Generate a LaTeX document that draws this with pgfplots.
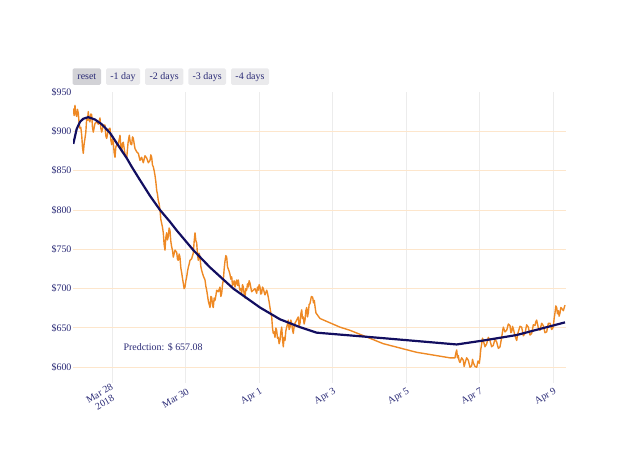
\documentclass[border=0pt]{standalone}
\usepackage{pgfplots}
\pgfplotsset{compat=1.18}
\usepackage{fontspec}
\setmainfont{Liberation Serif}
\definecolor{navyline}{RGB}{18,14,96}
\definecolor{txt}{RGB}{42,42,118}
\definecolor{orangeline}{RGB}{238,137,36}
\definecolor{hgrid}{RGB}{253,230,204}
\definecolor{vgrid}{RGB}{236,236,236}
\definecolor{btn}{RGB}{234,234,236}
\definecolor{btnact}{RGB}{210,210,214}
\pgfplotstableread{
x y
-1.053 929
-1.030 920
-1.007 933
-0.984 922
-0.961 919
-0.939 928
-0.917 923
-0.894 910
-0.871 904
-0.848 905
-0.824 895
-0.803 880
-0.781 872
-0.758 884
-0.735 891
-0.712 899
-0.688 917
-0.667 914
-0.645 925
-0.622 914
-0.599 912
-0.576 922
-0.552 921
-0.531 905
-0.509 899
-0.463 910
-0.416 912
-0.372 909
-0.327 917
-0.304 904
-0.280 899
-0.235 908
-0.190 908
-0.167 894
-0.144 891
-0.099 902
-0.054 904
-0.031 889
-0.008 883
0.014 890
0.035 886
0.059 873
0.082 867
0.105 880
0.128 883
0.173 884
0.218 895
0.241 880
0.264 874
0.286 885
0.307 886
0.354 871
0.400 866
0.436 885
0.471 895
0.504 884
0.536 883
0.558 893
0.580 891
0.626 878
0.672 874
0.717 872
0.762 863
0.807 867
0.852 860
0.898 869
0.944 866
0.989 860
1.034 863
1.057 870
1.080 867
1.102 857
1.124 855
1.147 850
1.170 844
1.193 836
1.216 825
1.238 820
1.260 812
1.283 808
1.306 800
1.329 788
1.352 783
1.374 778
1.396 771
1.419 756
1.442 749
1.465 765
1.488 771
1.510 762
1.532 766
1.555 777
1.578 774
1.601 760
1.624 753
1.646 749
1.668 740
1.715 749
1.761 746
1.783 737
1.804 736
1.827 744
1.850 740
1.874 726
1.897 720
1.919 713
1.940 707
1.963 700
1.986 702
2.010 710
2.033 715
2.055 722
2.076 727
2.099 731
2.122 736
2.167 738
2.212 745
2.236 760
2.259 771
2.282 761
2.305 758
2.327 743
2.348 736
2.372 745
2.395 740
2.418 728
2.441 723
2.486 716
2.531 711
2.554 703
2.577 698
2.622 684
2.667 676
2.690 690
2.713 689
2.735 679
2.756 676
2.780 688
2.803 685
2.826 691
2.849 698
2.894 696
2.939 702
2.962 690
2.985 694
3.007 705
3.029 711
3.052 725
3.075 735
3.098 742
3.121 740
3.143 728
3.164 725
3.188 722
3.211 718
3.234 712
3.257 715
3.280 704
3.302 707
3.325 710
3.347 702
3.370 708
3.393 711
3.416 704
3.438 711
3.461 703
3.483 698
3.506 700
3.529 694
3.551 705
3.573 702
3.596 693
3.619 688
3.642 700
3.665 698
3.687 706
3.709 702
3.732 710
3.755 707
3.800 696
3.845 698
3.891 700
3.937 694
3.959 702
3.981 698
4.004 705
4.027 702
4.050 693
4.073 694
4.095 702
4.117 700
4.163 692
4.210 698
4.232 694
4.253 689
4.276 683
4.299 676
4.322 669
4.346 664
4.367 650
4.389 643
4.412 645
4.435 638
4.458 650
4.481 647
4.503 637
4.525 638
4.548 630
4.571 634
4.595 645
4.618 651
4.640 636
4.661 626
4.684 638
4.707 634
4.730 646
4.754 651
4.775 655
4.797 660
4.820 648
4.844 651
4.867 660
4.890 656
4.911 648
4.933 643
4.956 652
4.980 656
5.025 660
5.069 664
5.092 652
5.116 656
5.139 668
5.162 673
5.183 662
5.205 664
5.228 655
5.252 660
5.275 672
5.298 676
5.320 664
5.341 669
5.365 680
5.388 681
5.425 690
5.461 689
5.483 682
5.505 685
5.528 676
5.551 669
5.660 662
6.204 651
6.476 647
7.382 630
8.291 619
9.197 612
9.333 612
9.356 618
9.380 622
9.401 612
9.423 615
9.446 608
9.469 606
9.514 612
9.559 609
9.582 601
9.605 605
9.650 612
9.695 609
9.741 600
9.788 602
9.810 610
9.831 606
9.878 601
9.924 600
9.960 608
9.995 605
10.014 612
10.033 622
10.047 626
10.060 630
10.082 637
10.103 634
10.150 626
10.196 630
10.241 638
10.286 634
10.331 626
10.376 628
10.422 636
10.468 632
10.513 624
10.558 626
10.581 632
10.604 638
10.626 645
10.648 651
10.694 645
10.740 647
10.785 655
10.830 653
10.853 644
10.876 645
10.898 652
10.920 649
10.966 640
11.012 634
11.034 641
11.056 645
11.102 652
11.148 651
11.193 640
11.238 643
11.283 654
11.328 651
11.374 641
11.420 643
11.465 654
11.510 653
11.533 658
11.556 660
11.601 650
11.646 647
11.691 656
11.736 653
11.782 644
11.829 645
11.873 656
11.918 656
11.963 648
12.008 651
12.031 662
12.054 669
12.077 678
12.100 676
12.122 668
12.144 672
12.167 665
12.190 669
12.213 676
12.236 675
12.281 672
12.327 679
}\price
\pgfplotstableread{
x y
-1.053 884
-0.961 903
-0.871 912
-0.781 916
-0.645 918
-0.463 915
-0.280 909
-0.054 898
0.128 885
0.400 866
0.536 855
0.762 838
1.034 818
1.306 800
1.578 785
1.761 774
2.212 749
2.667 727
3.302 700
3.483 694
4.027 676
4.571 661
5.116 651
5.570 644
7.382 637
9.380 629
10.103 634
11.012 641
12.327 657.08
}\pred
\begin{document}
\begin{tikzpicture}
\path[use as bounding box] (0,0) rectangle (640bp,457bp);
\begin{axis}[
  at={(73bp,74bp)}, anchor=south west,
  width=493bp, height=291bp, scale only axis,
  xmin=-1.061, xmax=12.354, ymin=580, ymax=950,
  axis line style={draw=none},
  major tick length=0pt,
  xtick={0,2,4,6,8,10,12},
  xticklabels={{Mar 28\\2018},Mar 30,Apr 1,Apr 3,Apr 5,Apr 7,Apr 9},
  xticklabel style={rotate=30, anchor=east, align=center, font=\fontsize{10}{10.5}\selectfont, text=txt, xshift=2bp, yshift=-8bp},
  ytick={600,650,...,900},
  yticklabels={\$600,\$650,\$700,\$750,\$800,\$850,\$900},
  extra y ticks={950}, extra y tick labels={\$950},
  extra y tick style={grid=none},
  yticklabel style={font=\fontsize{10}{12}\selectfont, text=txt, xshift=2bp},
  ymajorgrids, xmajorgrids,
  y grid style={hgrid, line width=0.9pt},
  x grid style={vgrid, line width=0.9pt},
  clip=true,
]
\addplot[orangeline, line width=1.4pt, line join=round] table[x=x,y=y] {\price};
\addplot[navyline, line width=2.2pt, line join=round] table[x=x,y=y] {\pred};
\node[text=txt, font=\fontsize{10}{12}\selectfont] at (axis cs:1.39,625.5) {Predction: \$ 657.08};
\end{axis}
\begin{scope}[font=\fontsize{10}{12}\selectfont, text=txt]
\fill[btnact, rounded corners=1.5bp] (72.7bp,372bp) rectangle (101bp,388.7bp);
\node at (86.85bp,380.3bp) {reset};
\fill[btn, rounded corners=1.5bp] (106bp,372bp) rectangle (140bp,388.7bp);
\node at (123bp,380.3bp) {-1 day};
\fill[btn, rounded corners=1.5bp] (145bp,372bp) rectangle (183.3bp,388.7bp);
\node at (164.15bp,380.3bp) {-2 days};
\fill[btn, rounded corners=1.5bp] (188.3bp,372bp) rectangle (226bp,388.7bp);
\node at (207.15bp,380.3bp) {-3 days};
\fill[btn, rounded corners=1.5bp] (231bp,372bp) rectangle (269bp,388.7bp);
\node at (250bp,380.3bp) {-4 days};
\end{scope}
\end{tikzpicture}
\end{document}
